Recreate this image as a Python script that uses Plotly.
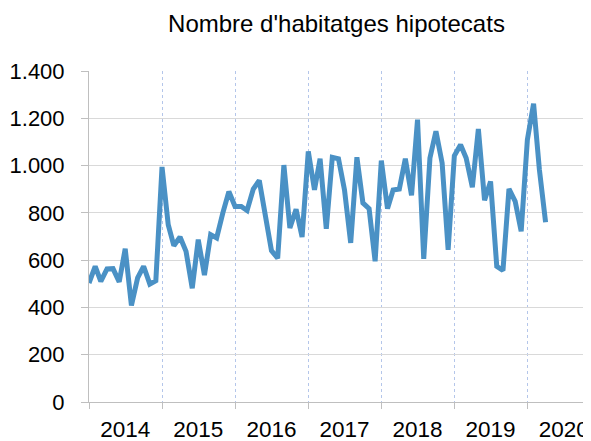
import pandas as pd
import plotly.graph_objects as go

# Monthly values Jan 2014 - Apr 2020
values_2014 = [503, 574, 510, 563, 564, 508, 648, 408, 525, 574, 499, 513]
values_2015 = [994, 750, 661, 698, 637, 481, 687, 537, 708, 694, 800, 890]
values_2016 = [827, 827, 810, 901, 937, 777, 640, 608, 1002, 736, 815, 698]
values_2017 = [1060, 897, 1029, 733, 1035, 1029, 897, 673, 1035, 842, 818, 595]
values_2018 = [1021, 818, 897, 901, 1029, 874, 1194, 605, 1032, 1145, 1011, 644]
values_2019 = [1042, 1088, 1032, 908, 1155, 853, 933, 574, 556, 901, 849, 722]
values_2020 = [1109, 1262, 983, 760]

values = values_2014 + values_2015 + values_2016 + values_2017 + values_2018 + values_2019 + values_2020
months = pd.date_range("2014-01-01", periods=len(values), freq="MS")

years = [2014, 2015, 2016, 2017, 2018, 2019, 2020]
year_label_pos = [f"{y}-07-01" for y in years]
year_labels = [str(y) for y in years]

title_text = "Nombre d'habitatges hipotecats"

FONT = "Liberation Sans, Arial, sans-serif"

# The page body has an 8px default margin, so the figure is sized to end at the window edge.
W, H = 583, 433

fig = go.Figure()
fig.add_trace(go.Scatter(
    x=months, y=values, mode="lines",
    line=dict(color="#4a91c5", width=5),
    hoverinfo="x+y", showlegend=False,
))

fig.update_layout(
    width=W, height=H,
    margin=dict(l=81, r=0, t=63, b=39, autoexpand=False),
    paper_bgcolor="white", plot_bgcolor="white",
    separators=",.",
    font=dict(family=FONT, color="#000000"),
    title=dict(text=title_text, xref="container", yref="container",
               x=328.5 / W, xanchor="center", y=1 - 16 / H, yanchor="middle",
               font=dict(size=24, family=FONT, color="#000000")),
)

fig.update_xaxes(
    type="date", automargin=False,
    range=["2014-01-01", "2020-11-14"],
    tickmode="array", tickvals=year_label_pos, ticktext=year_labels,
    ticks="", showgrid=False, ticklabelstandoff=7,
    tickfont=dict(size=22.5, family=FONT, color="#000000"),
    showline=True, linecolor="#bfbfbf", linewidth=1,
    zeroline=False,
    minor=dict(dtick="M12", tick0="2014-01-01", showgrid=True,
               gridcolor="#b4c6ea", griddash="dot", gridwidth=1.3,
               ticks="outside", ticklen=6, tickcolor="#bfbfbf", tickwidth=1),
)

fig.update_yaxes(
    automargin=False,
    range=[0, 1400], dtick=200, tickformat=",d",
    ticks="outside", ticklen=7, tickcolor="#bfbfbf", tickwidth=1,
    ticklabelstandoff=12,
    tickfont=dict(size=22, family=FONT, color="#000000"),
    showgrid=True, gridcolor="#d9d9d9", gridwidth=1,
    showline=True, linecolor="#bfbfbf", linewidth=1,
    zeroline=False,
)

fig.write_html("out.html")
